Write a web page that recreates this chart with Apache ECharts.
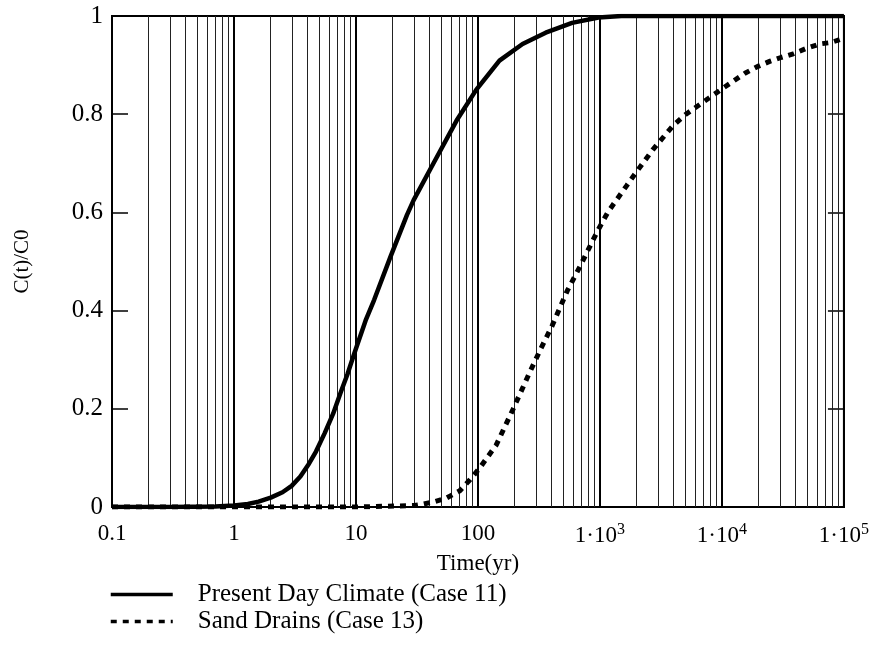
<!DOCTYPE html>
<html>
<head>
<meta charset="utf-8">
<script src="https://cdn.jsdelivr.net/npm/echarts@6/dist/echarts.min.js"></script>
<style>
html,body{margin:0;padding:0;background:#fff;}
#chart{width:872px;height:656px;}
</style>
</head>
<body>
<div id="chart"></div>
<script>
// ---- data ----
var case11Time = [0.1, 0.3, 0.7, 1, 1.3, 1.59, 2, 2.5, 2.97, 3.5, 4.04, 4.7, 5.53, 6.5, 7.54, 8.5, 9.7, 12, 14.1, 19.2, 26.2, 29.7, 43.2, 66.8, 97, 150, 232, 359, 591, 972, 1500, 100000];
var case11Conc = [0, 0, 0.001, 0.003, 0.006, 0.011, 0.019, 0.03, 0.043, 0.062, 0.085, 0.113, 0.15, 0.19, 0.235, 0.27, 0.313, 0.38, 0.422, 0.51, 0.595, 0.625, 0.70, 0.787, 0.85, 0.909, 0.943, 0.966, 0.986, 0.997, 1, 1];

var case13Time = [0.1, 10, 30, 35.8, 44, 55, 71, 85.6, 103, 141, 193, 263, 327, 407, 539, 690, 859, 960, 1101, 1172, 1651, 1932, 2718, 3952, 5073, 7840, 10070, 15570, 19970, 24870, 30900, 38450, 49250, 63200, 78500, 100000];
var case13Conc = [0, 0, 0.003, 0.006, 0.011, 0.018, 0.033, 0.055, 0.079, 0.126, 0.198, 0.272, 0.322, 0.37, 0.44, 0.491, 0.539, 0.563, 0.59, 0.602, 0.654, 0.678, 0.728, 0.776, 0.80, 0.833, 0.852, 0.884, 0.898, 0.908, 0.916, 0.923, 0.934, 0.943, 0.946, 0.955];

var seriesNames = ['Present Day Climate (Case 11)', 'Sand Drains (Case 13)'];

var xTickValues = [0.1, 1, 10, 100, 1000, 10000, 100000];
var xTickLabels = ['0.1', '1', '10', '100', '1\u00b710{s|3}', '1\u00b710{s|4}', '1\u00b710{s|5}'];
var yTickValues = [0, 0.2, 0.4, 0.6, 0.8, 1];
var yTickLabels = ['0', '0.2', '0.4', '0.6', '0.8', '1'];

var gridDecades = [0.1, 1, 10, 100, 1000, 10000];
var gridMultipliers = [2, 3, 4, 5, 6, 7, 8, 9];

// ---- build ----
function pairs(xs, ys) { return xs.map(function (x, i) { return [x, ys[i]]; }); }
var minorLines = [];
gridDecades.forEach(function (d) {
  gridMultipliers.forEach(function (m) { minorLines.push({ xAxis: d * m }); });
});

var FONT = "'Liberation Serif', 'Times New Roman', serif";

function xLabel(v) {
  for (var i = 0; i < xTickValues.length; i++) {
    if (Math.abs(Math.log10(v) - Math.log10(xTickValues[i])) < 1e-6) return xTickLabels[i];
  }
  return '';
}
function yLabel(v) {
  for (var i = 0; i < yTickValues.length; i++) {
    if (Math.abs(v - yTickValues[i]) < 1e-6) return yTickLabels[i];
  }
  return '';
}

var chart = echarts.init(document.getElementById('chart'), null, { renderer: 'canvas' });
chart.setOption({
  animation: false,
  backgroundColor: '#fff',
  textStyle: { fontFamily: FONT, color: '#000' },
  grid: { left: 112, right: 21, top: 16, bottom: 149, show: true, borderColor: '#000', borderWidth: 2, backgroundColor: 'transparent' },
  legend: {
    orient: 'vertical',
    left: 104,
    top: 577,
    itemWidth: 62,
    itemHeight: 14,
    itemGap: 2,
    itemStyle: { opacity: 0 },
    lineStyle: { width: 3.5 },
    textStyle: { fontFamily: FONT, fontSize: 25, color: '#000', lineHeight: 25, padding: [0, 0, 0, 20] },
    data: seriesNames
  },
  xAxis: {
    type: 'log',
    logBase: 10,
    min: 0.1,
    max: 100000,
    name: 'Time(yr)',
    nameLocation: 'middle',
    nameGap: 40,
    nameTextStyle: { fontFamily: FONT, fontSize: 23, color: '#000' },
    axisLine: { show: true, lineStyle: { color: '#000', width: 2 } },
    axisTick: { show: false },
    splitLine: { show: true, lineStyle: { color: '#000', width: 2 } },
    axisLabel: {
      formatter: xLabel,
      margin: 15,
      fontFamily: FONT,
      fontSize: 23,
      color: '#000',
      rich: { s: { fontFamily: FONT, fontSize: 16, color: '#000', verticalAlign: 'top', padding: [0, 0, 12, 0] } }
    }
  },
  yAxis: [{
    type: 'value',
    min: 0,
    max: 1,
    interval: 0.2,
    name: 'C(t)/C0',
    nameLocation: 'middle',
    nameRotate: 90,
    nameGap: 79,
    nameTextStyle: { fontFamily: FONT, fontSize: 21, color: '#000' },
    axisLine: { show: true, lineStyle: { color: '#000', width: 2 } },
    axisTick: { show: true, inside: true, length: 16, lineStyle: { color: '#000', width: 1.5 } },
    splitLine: { show: false },
    axisLabel: { formatter: yLabel, margin: 9, fontFamily: FONT, fontSize: 25, color: '#000' }
  }, {
    type: 'value',
    position: 'right',
    min: 0,
    max: 1,
    interval: 0.2,
    axisLine: { show: true, lineStyle: { color: '#000', width: 2 } },
    axisTick: { show: true, inside: true, length: 16, lineStyle: { color: '#000', width: 1.5 } },
    splitLine: { show: false },
    axisLabel: { show: false }
  }],
  series: [{
    name: seriesNames[0],
    type: 'line',
    data: pairs(case11Time, case11Conc),
    showSymbol: false,
    symbol: 'none',
    smooth: false,
    lineStyle: { color: '#000', width: 4.5, type: 'solid', join: 'round' },
    itemStyle: { color: '#000' },
    z: 5,
    markLine: {
      silent: true,
      symbol: ['none', 'none'],
      label: { show: false },
      lineStyle: { color: '#222', width: 1, type: 'solid' },
      data: minorLines,
      z: 1
    }
  }, {
    name: seriesNames[1],
    type: 'line',
    data: pairs(case13Time, case13Conc),
    showSymbol: false,
    symbol: 'none',
    smooth: false,
    lineStyle: { color: '#000', width: 5, type: [6, 6], cap: 'butt' },
    itemStyle: { color: '#000' },
    z: 5
  }]
});
</script>
</body>
</html>
